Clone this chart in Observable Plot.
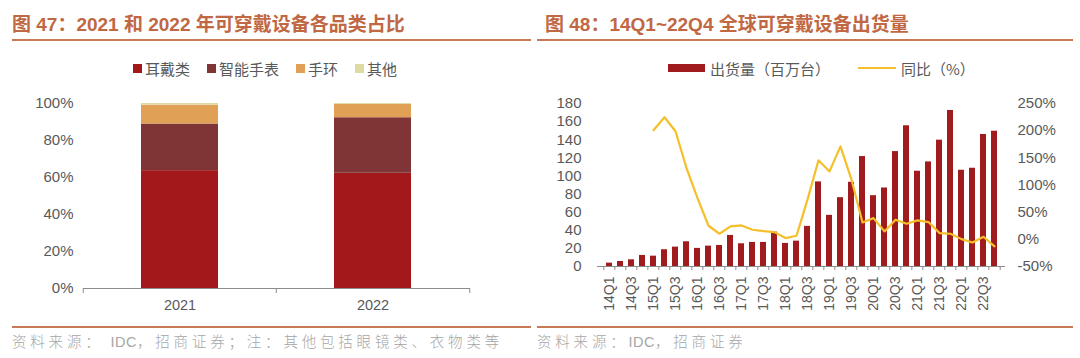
<!DOCTYPE html>
<html><head><meta charset="utf-8">
<script src="https://cdn.jsdelivr.net/npm/d3@7"></script>
<script src="https://cdn.jsdelivr.net/npm/@observablehq/plot@0.6"></script>
<style>
body{margin:0;background:#fff;width:1080px;height:358px;overflow:hidden;position:relative;font-family:"Liberation Sans","Noto Sans CJK SC",sans-serif;}
.title{position:absolute;top:9px;font-size:19px;font-weight:bold;color:#bf6843;white-space:nowrap;font-family:"Liberation Sans","Noto Sans CJK SC",sans-serif;}
.rule{position:absolute;height:2px;background:#c77a55;}
.legend{position:absolute;top:59px;height:18px;font-size:15px;color:#595959;display:flex;align-items:center;white-space:nowrap;font-family:"Noto Sans CJK SC",sans-serif;}
.sw{display:inline-block;width:9px;height:9px;margin-right:3px;}
.item{display:flex;align-items:center;margin-right:17px;}
.src{position:absolute;top:330px;font-size:14.5px;color:#a6a6a6;letter-spacing:3.8px;white-space:nowrap;font-family:"Noto Sans CJK SC",sans-serif;font-weight:300;}
.lat{letter-spacing:0.5px;font-family:"Liberation Sans",sans-serif;}
.chart{position:absolute;top:85px;}
</style></head><body>
<div class="title" style="left:12px">图 47：2021 和 2022 年可穿戴设备各品类占比</div>
<div class="rule" style="left:12px;top:39px;width:519px"></div>
<div class="title" style="left:545px">图 48：14Q1~22Q4 全球可穿戴设备出货量</div>
<div class="rule" style="left:537px;top:39px;width:536px"></div>
<div class="legend" id="leg1" style="left:133px"></div>
<div class="legend" id="leg2" style="left:668px"></div>
<div class="chart" id="c1" style="left:0px"></div>
<div class="chart" id="c2" style="left:540px"></div>
<div class="rule" style="left:12px;top:326px;width:519px"></div>
<div class="rule" style="left:537px;top:326px;width:536px"></div>
<div class="src" style="left:12px">资料来源： <span class="lat">IDC</span>，招商证券；注：其他包括眼镜类、衣物类等</div>
<div class="src" style="left:537px">资料来源：<span class="lat">IDC</span>，招商证券</div>
<script>
// ---- Chart 47 data ----
const years = ["2021", "2022"];
const categories = ["耳戴类", "智能手表", "手环", "其他"];
const earwear = [63.7, 62.3];
const smartwatch = [25.2, 30.0];
const wristband = [10.2, 7.2];
const others = [0.9, 0.5];
const catColors = ["#a3181a", "#7f3535", "#e0a055", "#dedba2"];
const pctTicks = [0, 20, 40, 60, 80, 100];

// ---- Chart 48 data ----
const quarters = ["14Q1","14Q2","14Q3","14Q4","15Q1","15Q2","15Q3","15Q4",
  "16Q1","16Q2","16Q3","16Q4","17Q1","17Q2","17Q3","17Q4",
  "18Q1","18Q2","18Q3","18Q4","19Q1","19Q2","19Q3","19Q4",
  "20Q1","20Q2","20Q3","20Q4","21Q1","21Q2","21Q3","21Q4",
  "22Q1","22Q2","22Q3","22Q4"];
const shipments = [3.7, 5.5, 7.4, 12.2, 11.4, 18.5, 21.4, 27.3,
  20.0, 22.5, 23.2, 34.3, 25.1, 26.6, 26.6, 38.0,
  25.5, 28.0, 44.3, 93.4, 56.5, 76.0, 93.0, 121.4,
  78.2, 86.7, 126.9, 155.4, 105.2, 115.5, 139.5, 172.3,
  106.3, 108.5, 145.8, 149.4];
const yoy = [null, null, null, null, 200.8, 224.7, 198.9, 131.2,
  76, 25, 10.3, 23.8, 25.6, 17.6, 15.2, 13.3,
  2.3, 6.6, 73, 145.5, 125, 171, 110, 31,
  39, 14.6, 36, 28.7, 34.8, 31.8, 11.5, 10.3,
  0.4, -5.7, 4.7, -13];
const xLabels = ["14Q1","14Q3","15Q1","15Q3","16Q1","16Q3","17Q1","17Q3","18Q1","18Q3",
  "19Q1","19Q3","20Q1","20Q3","21Q1","21Q3","22Q1","22Q3"];
const leftTicks = [0, 20, 40, 60, 80, 100, 120, 140, 160, 180];
const rightTicks = [-50, 0, 50, 100, 150, 200, 250];
const barColor = "#a01b1d";
const lineColor = "#f5bf2a";

// legends
const leg1 = document.getElementById("leg1");
categories.forEach((c, i) => {
  const it = document.createElement("span"); it.className = "item";
  it.innerHTML = `<span class="sw" style="background:${catColors[i]}"></span>${c}`;
  leg1.appendChild(it);
});
document.getElementById("leg2").innerHTML =
  `<span class="item" style="margin-right:28px"><span style="display:inline-block;width:37px;height:8px;background:${barColor};margin-right:5px"></span>出货量（百万台）</span>` +
  `<span class="item"><span style="display:inline-block;width:38px;height:2px;background:${lineColor};margin-right:5px"></span>同比（%）</span>`;

const fontFam = '"Liberation Sans", Arial, sans-serif';

// ---- Chart 47 ----
{
  const W = 530, H = 235, ml = 83, mr = 60, mt = 18, mb = 32;
  const series = [earwear, smartwatch, wristband, others];
  const rows = [];
  years.forEach((y, i) => series.forEach((s, j) => rows.push({year: y, cat: categories[j], v: s[i]})));
  const step = (W - ml - mr) / years.length;
  const tickLen = 5 * 100 / (H - mt - mb);
  const p = Plot.plot({
    width: W, height: H, marginLeft: ml, marginRight: mr, marginTop: mt, marginBottom: mb,
    style: {fontFamily: fontFam, fontSize: "15px", color: "#595959", background: "transparent"},
    x: {domain: years, paddingInner: 0.6, paddingOuter: 0.3, label: null},
    y: {domain: [0, 100], label: null},
    color: {domain: categories, range: catColors},
    marks: [
      Plot.barY(rows, {x: "year", y: "v", fill: "cat", order: categories}),
      Plot.ruleY([0], {stroke: "#8c8c8c", strokeWidth: 1.2}),
      Plot.ruleX(years, {x: d => d, y1: 0, y2: -tickLen, dx: -step / 2, stroke: "#8c8c8c"}),
      Plot.ruleX(years.slice(-1), {x: d => d, y1: 0, y2: -tickLen, dx: step / 2, stroke: "#8c8c8c"}),
      Plot.axisY({ticks: pctTicks, tickSize: 0, tickPadding: 10, tickFormat: d => d + "%", fontSize: 15, label: null}),
      Plot.axisX({tickSize: 0, tickPadding: 11, fontSize: 14.5, label: null})
    ]
  });
  document.getElementById("c1").appendChild(p);
}

// ---- Chart 48 ----
{
  const W = 540, H = 250, ml = 57, mr = 75, mt = 18, mb = 69;
  const yMax = leftTicks[leftTicks.length - 1];
  const rMin = rightTicks[0], rMax = rightTicks[rightTicks.length - 1];
  const toLeft = r => (r - rMin) * yMax / (rMax - rMin);
  const fromLeft = v => Math.round(v * (rMax - rMin) / yMax + rMin);
  const rows = quarters.map((q, i) => ({q, v: shipments[i], r: yoy[i]}));
  const step = (W - ml - mr) / quarters.length;
  const tickLen = 4 * yMax / (H - mt - mb);
  const p = Plot.plot({
    width: W, height: H, marginLeft: ml, marginRight: mr, marginTop: mt, marginBottom: mb,
    style: {fontFamily: fontFam, fontSize: "15px", color: "#595959", background: "transparent"},
    x: {domain: quarters, paddingInner: 0.47, paddingOuter: 0.235, label: null},
    y: {domain: [0, yMax], label: null},
    marks: [
      Plot.barY(rows, {x: "q", y: "v", fill: barColor}),
      Plot.ruleY([0], {stroke: "#8c8c8c", strokeWidth: 1.2}),
      Plot.ruleX(quarters, {x: d => d, y1: 0, y2: -tickLen, dx: -step / 2, stroke: "#8c8c8c"}),
      Plot.ruleX(quarters.slice(-1), {x: d => d, y1: 0, y2: -tickLen, dx: step / 2, stroke: "#8c8c8c"}),
      Plot.lineY(rows.filter(d => d.r != null), {x: "q", y: d => toLeft(d.r), stroke: lineColor, strokeWidth: 2.2}),
      Plot.axisY({ticks: leftTicks, tickSize: 0, tickPadding: 16, fontSize: 15, label: null}),
      Plot.axisY({anchor: "right", ticks: rightTicks.map(toLeft), tickFormat: d => fromLeft(d) + "%", tickSize: 0, tickPadding: 12, fontSize: 15, label: null}),
      Plot.axisX({ticks: xLabels, tickRotate: -90, tickSize: 0, tickPadding: 10, fontSize: 14, label: null})
    ]
  });
  document.getElementById("c2").appendChild(p);
}
</script>
</body></html>
